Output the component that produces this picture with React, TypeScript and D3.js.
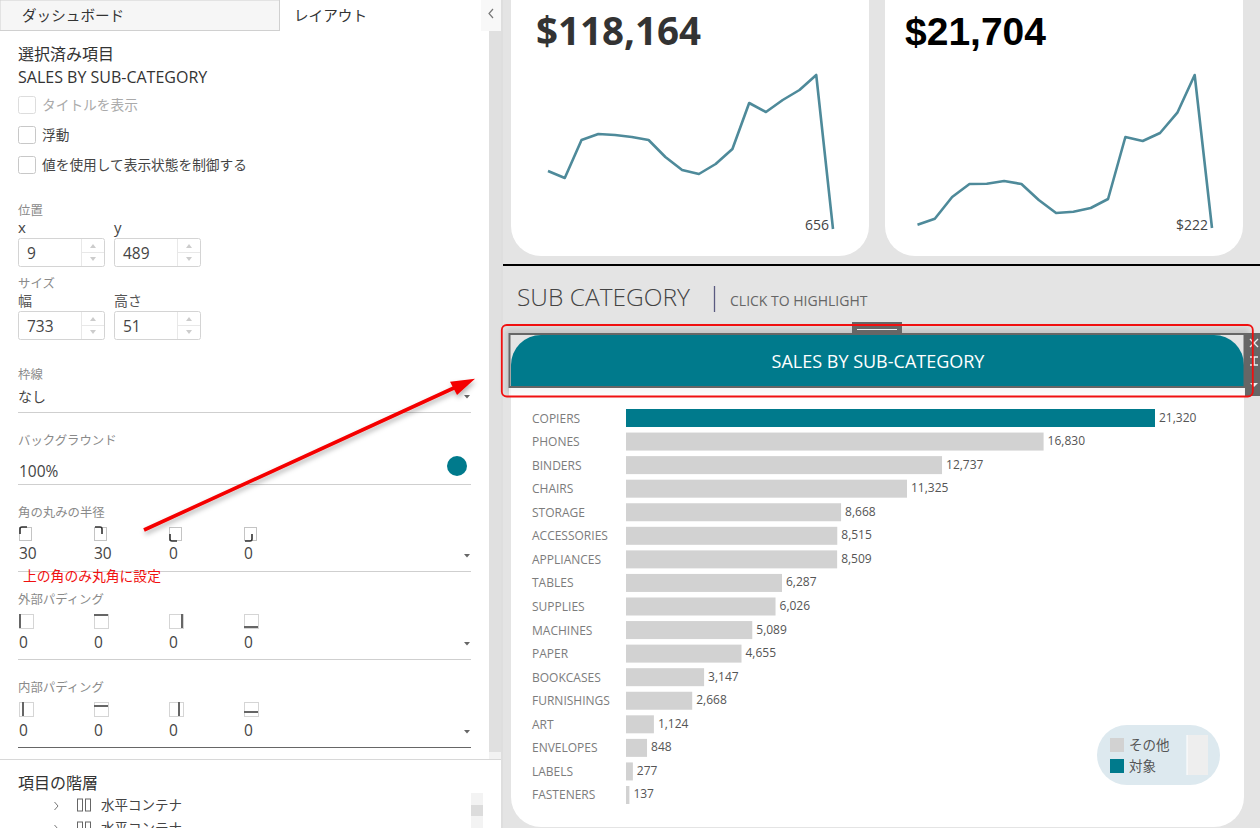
import React from "react";
import * as d3 from "d3";

const subCategories = ["COPIERS", "PHONES", "BINDERS", "CHAIRS", "STORAGE", "ACCESSORIES", "APPLIANCES", "TABLES", "SUPPLIES", "MACHINES", "PAPER", "BOOKCASES", "FURNISHINGS", "ART", "ENVELOPES", "LABELS", "FASTENERS"];
const subCategorySales = [21320, 16830, 12737, 11325, 8668, 8515, 8509, 6287, 6026, 5089, 4655, 3147, 2668, 1124, 848, 277, 137];
const highlighted = ["COPIERS"];

const salesTrend = [4600, 4124, 6708, 7116, 7048, 6912, 6708, 5552, 4668, 4396, 5076, 6096, 9224, 8612, 9428, 10108, 11128, 656];
const profitTrend = [289, 411, 851, 1115, 1121, 1176, 1115, 790, 527, 553, 628, 811, 2069, 1988, 2151, 2563, 3328, 222];

const legendLabels = ["その他", "対象"];

const TEAL = "#007a8c";
const GREY = "#d2d2d2";
const LINE = "#4e8a9a";
const BG = "#e4e4e4";
const JP = "'Noto Sans CJK JP', 'Noto Sans', sans-serif";
const UI = "'Open Sans', 'Noto Sans', sans-serif";

const formatValue = d3.format(",");

const x = d3.scaleLinear().domain([0, 21320]).range([626, 1155]);
const y = d3.scaleBand().domain(subCategories).range([409, 804]).paddingInner(0.236).paddingOuter(0);

const Spark = ({ values, x0, x1, y0, label, labelX }: { values: number[]; x0: number; x1: number; y0: number; label: string; labelX: number }) => {
  const sx = d3.scalePoint<number>().domain(values.map((_, i) => i)).range([x0, x1]);
  const sy = d3.scaleLinear().domain([d3.min(values)!, d3.max(values)!]).range([y0, 75]);
  const line = d3.line<number>().x((_, i) => sx(i)!).y((d) => sy(d));
  return (
    <g>
      <path d={line(values)!} fill="none" stroke={LINE} strokeWidth={2.6} strokeLinejoin="round" />
      <text x={labelX} y={230} textAnchor="end" fontFamily={UI} fontSize={14} fill="#444">{label}</text>
    </g>
  );
};

const Spinner = ({ x: px, y: py, value }: { x: number; y: number; value: string }) => (
  <g>
    <rect x={px + 0.5} y={py + 0.5} width={86} height={28} rx={2} fill="#fff" stroke="#d4d4d4" />
    <line x1={px + 63.5} x2={px + 63.5} y1={py + 1} y2={py + 28} stroke="#e8e8e8" />
    <line x1={px + 64} x2={px + 86} y1={py + 14.5} y2={py + 14.5} stroke="#e8e8e8" />
    <path d={`M${px + 72} ${py + 10}l3 -4l3 4z`} fill="#ccc" />
    <path d={`M${px + 72} ${py + 19}l3 4l3 -4z`} fill="#ccc" />
    <text x={px + 9} y={py + 21} fontFamily={UI} fontSize={15.5} fill="#444">{value}</text>
  </g>
);

const Check = ({ py, label, color }: { py: number; label: string; color: string }) => (
  <g>
    <rect x={18.5} y={py + 0.5} width={17} height={17} rx={2} fill="#fff" stroke={color === "#aaa" ? "#ddd" : "#c8c8c8"} />
    <text x={42} y={py + 14} fontFamily={JP} fontSize={13.7} fill={color}>{label}</text>
  </g>
);

const Sub = ({ py, label }: { py: number; label: string }) => (
  <text x={18} y={py} fontFamily={JP} fontSize={12.4} fill="#8a8a8a">{label}</text>
);

const Rule = ({ py, color = "#cfcfcf" }: { py: number; color?: string }) => (
  <line x1={18} x2={471} y1={py} y2={py} stroke={color} />
);

const Caret = ({ py }: { py: number }) => <path d={`M464 ${py}h6l-3 3.5z`} fill="#666" />;

const columnX = [18, 93, 168, 243];

const Values = ({ py, values }: { py: number; values: string[] }) => (
  <g>
    {values.map((v, i) => (
      <text key={i} x={columnX[i] + 1} y={py} fontFamily={UI} fontSize={15.5} fill="#444">{v}</text>
    ))}
  </g>
);

const cornerPaths = ["M20 534v-5a2 2 0 0 1 2-2h5", "M95 527h5a2 2 0 0 1 2 2v5", "M170 534v5a2 2 0 0 0 2 2h5", "M245 541h5a2 2 0 0 0 2-2v-5"];

const PadIcons = ({ py, inset }: { py: number; inset: number }) => (
  <g>
    {columnX.map((cx, i) => {
      const ox = cx + 1;
      const bar = [
        { x: ox + inset, y: py, w: 2, h: 14 },
        { x: ox, y: py + inset, w: 14, h: 2 },
        { x: ox + 12 - inset, y: py, w: 2, h: 14 },
        { x: ox, y: py + 12 - inset, w: 14, h: 2 },
      ][i];
      return (
        <g key={i}>
          <rect x={ox + 0.5} y={py + 0.5} width={14} height={14} fill="none" stroke="#aaa" strokeDasharray="1 1" />
          <rect x={bar.x} y={bar.y} width={bar.w} height={bar.h} fill="#666" />
        </g>
      );
    })}
  </g>
);

const TreeRow = ({ py }: { py: number }) => (
  <g>
    <path d={`M54.5 ${py - 8}l3.5 4l-3.5 4`} fill="none" stroke="#777" />
    <rect x={77.5} y={py - 11} width={5} height={12} fill="none" stroke="#666" />
    <rect x={85.5} y={py - 11} width={5} height={12} fill="none" stroke="#666" />
    <text x={101} y={py} fontFamily={JP} fontSize={13.5} fill="#444">水平コンテナ</text>
  </g>
);

const LeftPanel = () => (
  <g>
    <rect x={0} y={0} width={501} height={828} fill="#fff" />
    <rect x={0} y={0} width={279.5} height={30.5} fill="#f6f6f6" stroke="#d0d0d0" />
    <rect x={481} y={0} width={20} height={31} fill="#f8f8f8" />
    <rect x={489} y={31} width={12} height={721} fill="#e0e0e0" />
    <rect x={489} y={752} width={12} height={7} fill="#f2f2f2" />
    <path d="M493 9l-4 4.5l4 4.5" fill="none" stroke="#777" strokeWidth={1.2} />
    <text x={22} y={21} fontFamily={JP} fontSize={14.6} fill="#333">ダッシュボード</text>
    <text x={294} y={21} fontFamily={JP} fontSize={14.6} fill="#333">レイアウト</text>

    <text x={18} y={60} fontFamily={JP} fontSize={16} fill="#333">選択済み項目</text>
    <text x={18} y={83} fontFamily={UI} fontSize={16} fill="#333">SALES BY SUB-CATEGORY</text>
    <Check py={96} label="タイトルを表示" color="#aaa" />
    <Check py={126} label="浮動" color="#444" />
    <Check py={156} label="値を使用して表示状態を制御する" color="#444" />

    <Sub py={215} label="位置" />
    <text x={18} y={233} fontFamily={UI} fontSize={15} fill="#444">x</text>
    <text x={114} y={233} fontFamily={UI} fontSize={15} fill="#444">y</text>
    <Spinner x={18} y={238} value="9" />
    <Spinner x={114} y={238} value="489" />

    <Sub py={288} label="サイズ" />
    <text x={18} y={306} fontFamily={JP} fontSize={14} fill="#555">幅</text>
    <text x={114} y={306} fontFamily={JP} fontSize={14} fill="#555">高さ</text>
    <Spinner x={18} y={311} value="733" />
    <Spinner x={114} y={311} value="51" />

    <Sub py={379} label="枠線" />
    <text x={18} y={402} fontFamily={JP} fontSize={14} fill="#444">なし</text>
    <Rule py={412.5} />
    <Caret py={395} />

    <Sub py={445} label="バックグラウンド" />
    <text x={19} y={477} fontFamily={UI} fontSize={15.5} fill="#444">100%</text>
    <circle cx={457} cy={466} r={10} fill={TEAL} />
    <Rule py={484.5} />

    <Sub py={517} label="角の丸みの半径" />
    {cornerPaths.map((d, i) => (
      <g key={i}>
        <rect x={columnX[i] + 1.5} y={527.5} width={12} height={13} fill="none" stroke="#888" strokeDasharray="1 1" />
        <path d={d} fill="none" stroke="#333" strokeWidth={1.6} />
      </g>
    ))}
    <Values py={559} values={["30", "30", "0", "0"]} />
    <Rule py={571.5} />
    <Caret py={554} />
    <text x={23} y={581} fontFamily={JP} fontSize={13.8} fill="#f01010">上の角のみ丸角に設定</text>

    <Sub py={604} label="外部パディング" />
    <PadIcons py={614} inset={0} />
    <Values py={648} values={["0", "0", "0", "0"]} />
    <Rule py={659.5} />
    <Caret py={642} />

    <Sub py={692} label="内部パディング" />
    <PadIcons py={702} inset={3} />
    <Values py={736} values={["0", "0", "0", "0"]} />
    <Rule py={747.5} color="#666" />
    <Caret py={730} />

    <line x1={0} x2={501} y1={759.5} y2={759.5} stroke="#d8d8d8" />
    <text x={18} y={789} fontFamily={JP} fontSize={16} fill="#333">項目の階層</text>
    <TreeRow py={810} />
    <TreeRow py={833} />
    <rect x={471} y={793} width={12} height={35} fill="#f3f3f3" />
    <rect x={471} y={805} width={12} height={11} fill="#dcdcdc" />
  </g>
);

const bandPath = () => {
  const p = d3.path();
  p.moveTo(511, 387);
  p.lineTo(511, 365);
  p.arcTo(511, 335, 541, 335, 30);
  p.lineTo(1214, 335);
  p.arcTo(1244, 335, 1244, 365, 30);
  p.lineTo(1244, 387);
  p.closePath();
  return p.toString();
};

const SelectionChrome = () => (
  <g>
    <rect x={509.5} y={334} width={735} height={53} fill="none" stroke="#666" strokeWidth={2} />
    <rect x={852} y={322} width={50} height={12} fill="#666" />
    <line x1={857} x2={897} y1={329.5} y2={329.5} stroke="#eee" />
    <rect x={1245} y={333} width={15} height={63} fill="#666" />
    <path d="M1250 339l8 8M1258 339l-8 8" stroke="#eee" strokeWidth={1.4} />
    <path d="M1250 357h8M1250 365h8M1254 357v8" stroke="#eee" strokeWidth={1.6} />
    <path d="M1250 383h8l-4 4z" fill="#eee" />
    <rect x={501.8} y={325} width={751} height={71.5} rx={5} fill="none" stroke="#f01010" strokeWidth={1.8} />
  </g>
);

const Legend = () => (
  <g>
    <rect x={1097} y={725} width={123} height={60} rx={30} fill="#dde9ef" />
    <rect x={1187} y={735} width={21} height={40} fill="#eeeeee" />
    <line x1={1187} x2={1187} y1={735} y2={775} stroke="#fff" />
    {legendLabels.map((label, i) => (
      <g key={label}>
        <rect x={1110} y={738 + i * 21} width={14} height={14} fill={i === 0 ? GREY : TEAL} />
        <text x={1129} y={750 + i * 21} fontFamily={JP} fontSize={13.5} fill="#555">{label}</text>
      </g>
    ))}
  </g>
);

export default function App() {
  return (
    <svg width={1260} height={828} viewBox="0 0 1260 828" style={{ position: "absolute", left: 0, top: 0, display: "block" }}>
      <defs>
        <filter id="soft" x="-5%" y="-30%" width="110%" height="160%">
          <feGaussianBlur stdDeviation="3" />
        </filter>
        <filter id="arrowShadow" x="-10%" y="-10%" width="120%" height="130%">
          <feDropShadow dx={1} dy={3} stdDeviation={2.5} floodColor="#000" floodOpacity={0.3} />
        </filter>
      </defs>
      <rect width={1260} height={828} fill={BG} />
      <LeftPanel />
      <line x1={502} x2={502} y1={0} y2={828} stroke="#d8d8d8" />

      <rect x={511} y={-40} width={358} height={296} rx={30} fill="#fff" />
      <rect x={885} y={-40} width={358} height={296} rx={30} fill="#fff" />
      <text x={536} y={45} fontFamily={UI} fontWeight={700} fontSize={38.5} fill="#333">$118,164</text>
      <text x={905} y={45} fontFamily="'Liberation Sans', Arial, sans-serif" fontWeight={700} fontSize={39} fill="#000">$21,704</text>
      <Spark values={salesTrend} x0={548} x1={833} y0={229} label="656" labelX={829} />
      <Spark values={profitTrend} x0={917.5} x1={1212} y0={228} label="$222" labelX={1208} />
      <line x1={503} x2={1260} y1={265} y2={265} stroke="#000" strokeWidth={2} />

      <text x={517} y={306} fontFamily={UI} fontWeight={300} fontSize={24.5} fill="#444">SUB CATEGORY</text>
      <line x1={714.5} x2={714.5} y1={286} y2={312} stroke="#5a5a80" strokeWidth={1.3} />
      <text x={730} y={306} fontFamily={UI} fontSize={14} fill="#666">CLICK TO HIGHLIGHT</text>

      <path d="M511 387H1244V797a30 30 0 0 1 -30 30H541a30 30 0 0 1 -30 -30Z" fill="#fff" />
      <rect x={505} y={328} width={745} height={66} fill="#000" opacity={0.13} filter="url(#soft)" />
      <rect x={509} y={387} width={736} height={9} fill="#fff" opacity={0.75} />
      <rect x={509} y={333} width={736} height={55} fill={BG} />
      <path d={bandPath()} fill={TEAL} />
      <text x={878} y={367.5} textAnchor="middle" fontFamily={UI} fontSize={18} fill="#fff">SALES BY SUB-CATEGORY</text>
      <SelectionChrome />

      {subCategories.map((name, i) => {
        const value = subCategorySales[i];
        const cy = y(name)! + y.bandwidth() / 2;
        return (
          <g key={name}>
            <text x={532} y={cy + 4.5} fontFamily={UI} fontSize={12} fill="#7c7c7c">{name}</text>
            <rect x={x(0)} y={y(name)!} width={x(value) - x(0)} height={y.bandwidth()} fill={highlighted.includes(name) ? TEAL : GREY} />
            <text x={x(value) + 4} y={cy + 3.5} fontFamily={UI} fontSize={12} fill="#555">{formatValue(value)}</text>
          </g>
        );
      })}

      <Legend />

      <g filter="url(#arrowShadow)">
        <line x1={144} y1={530} x2={456} y2={387} stroke="#f40000" strokeWidth={3.6} />
        <path d="M475 378.7L450 381.7L457 395Z" fill="#f40000" />
      </g>
    </svg>
  );
}
